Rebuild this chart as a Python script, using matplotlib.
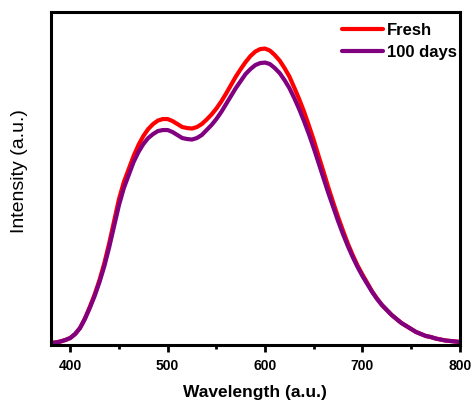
import numpy as np
import matplotlib
matplotlib.use('Agg')
from matplotlib import pyplot as plt
from matplotlib.ticker import MultipleLocator

plt.rcParams['font.family'] = ['Liberation Sans', 'DejaVu Sans']

wavelength = list(range(380, 801, 5))

fresh = [2, 2.5, 3.5, 5, 7, 11, 17, 26.5, 38, 50.5,
         65, 82, 102, 124, 146, 163, 176, 189, 200, 209,
         216, 221, 224.5, 226, 226, 224, 221, 218, 217, 216.5,
         218, 221, 225.5, 230.5, 236.5, 243.5, 251.5, 260, 268.5, 276,
         283, 289, 293.5, 296, 296.5, 294.5, 290, 284.5, 277, 268.5,
         257.5, 246, 233.5, 219.5, 205, 189, 173.5, 157.5, 142.5, 128,
         114.5, 101.5, 90, 79.5, 70.5, 62, 53.5, 46.5, 40, 35,
         30, 26, 22, 19, 16, 13, 11, 9, 8, 6.5,
         5.5, 4.5, 4, 3.5, 3]

days_100 = [2, 2.5, 3.5, 5, 7, 11, 17, 26, 37, 49,
            63, 79, 98, 119, 140, 157, 170, 183, 193, 201,
            207, 211, 214, 215, 215, 213, 210, 207, 206, 205.5,
            207, 210, 215, 220, 226, 233, 241, 249, 257, 264,
            271, 276, 280, 282, 282.5, 281, 277, 272, 265, 257,
            247, 236, 224, 211, 197, 182, 167, 152, 138, 124,
            111, 99, 88, 78, 69, 61, 53, 46, 40, 35,
            30, 26, 22, 19, 16, 13, 11, 9, 8, 6.5,
            5.5, 4.5, 4, 3.5, 3]


def main():
    fig = plt.figure(figsize=(4.75, 4.03), dpi=100)
    ax = fig.add_axes([0.107, 0.144, 0.861, 0.826])

    ax.plot(wavelength, fresh, color='#ff0000', lw=3, label='Fresh',
            solid_joinstyle='round', solid_capstyle='round')
    ax.plot(wavelength, days_100, color='#800080', lw=3, label='100 days',
            solid_joinstyle='round', solid_capstyle='round')

    ax.set_xlim(380, 800)
    ax.set_ylim(0, 333)
    ax.set_yticks([])
    ax.xaxis.set_major_locator(MultipleLocator(100))
    ax.xaxis.set_minor_locator(MultipleLocator(50))
    ax.tick_params(axis='x', which='major', direction='out', length=5, width=2,
                   labelsize=10, pad=5)
    ax.tick_params(axis='x', which='minor', direction='out', length=3, width=2)
    for lab in ax.get_xticklabels():
        lab.set_fontweight('bold')
    for sp in ax.spines.values():
        sp.set_linewidth(2.2)

    ax.set_xlabel('Wavelength (a.u.)', fontsize=12.5, fontweight='bold', labelpad=9)
    ax.set_ylabel('Intensity (a.u.)', fontsize=14)
    ax.yaxis.set_label_coords(-0.056, 0.523)

    ax.legend(loc='upper right', bbox_to_anchor=(1.012, 0.99), frameon=False,
              handlelength=2.45, handletextpad=0.25, labelspacing=0.4,
              borderaxespad=0.15, borderpad=0.3,
              prop={'weight': 'bold', 'size': 12})

    fig.savefig('out.png', dpi=100)


if __name__ == "__main__":
    main()
